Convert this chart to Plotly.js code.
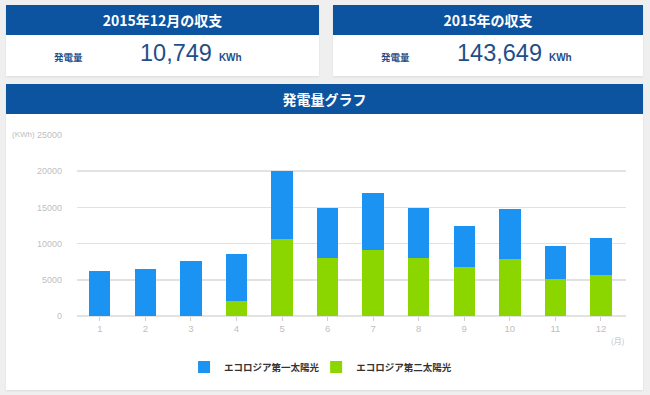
<!DOCTYPE html>
<html>
<head>
<meta charset="utf-8">
<script src="https://cdn.plot.ly/plotly-3.0.1.min.js"></script>
<style>
  html, body { margin:0; padding:0; }
  body { width:650px; height:395px; background:#efefef; position:relative; overflow:hidden;
         font-family:"Liberation Sans","Noto Sans CJK JP",sans-serif; }
  .panel { position:absolute; background:#fff; box-shadow:0 1px 2px rgba(0,0,0,0.08); }
  .head { position:absolute; left:0; top:0; right:0; height:30px; background:#0c54a0; color:#fff;
          font-family:"Noto Sans CJK JP",sans-serif; font-weight:bold; font-size:14px;
          text-align:center; line-height:30px; }
  .lab { position:absolute; font-family:"Noto Sans CJK JP",sans-serif; font-weight:bold; font-size:9.5px;
         color:#1f4e89; }
  .val { position:absolute; font-family:"Liberation Sans",sans-serif; font-size:23.5px; line-height:23px;
         color:#1f4e89; white-space:nowrap; }
  .val span { font-size:10px; font-weight:bold; margin-left:7px; }
  #chart { position:absolute; left:6px; top:113px; width:637px; height:277px; }
</style>
</head>
<body>
<div class="panel" style="left:6px; top:5px; width:313px; height:71px;">
  <div class="head">2015年12月の収支</div>
  <div class="lab" style="left:48px; top:45px;">発電量</div>
  <div class="val" style="left:134px; top:37px;">10,749<span>KWh</span></div>
</div>
<div class="panel" style="left:333px; top:5px; width:310px; height:71px;">
  <div class="head">2015年の収支</div>
  <div class="lab" style="left:48px; top:45px;">発電量</div>
  <div class="val" style="left:124px; top:37px;">143,649<span>KWh</span></div>
</div>
<div class="panel" style="left:6px; top:84px; width:637px; height:306px;">
  <div class="head">発電量グラフ</div>
</div>
<div id="chart"></div>
<script>
const months = ['1','2','3','4','5','6','7','8','9','10','11','12'];
const seriesNames = ['エコロジア第一太陽光', 'エコロジア第二太陽光'];
const series1 = [6170, 6450, 7560, 6490, 9430, 6870, 7820, 6850, 5700, 6960, 4520, 5030];
const series2 = [0, 0, 0, 2070, 10590, 8010, 9170, 8070, 6730, 7870, 5110, 5720];
const yTicks = [0, 5000, 10000, 15000, 20000, 25000];

const data = [
  { type:'bar', x: months, y: series2, name: seriesNames[1], legend:'legend2',
    marker:{ color:'#8cd600' }, hoverinfo:'skip' },
  { type:'bar', x: months, y: series1, name: seriesNames[0], legend:'legend',
    marker:{ color:'#1a93f2' }, hoverinfo:'skip' }
];

const legendFont = { family:'"Noto Sans CJK JP", sans-serif', size:9.5, color:'#333', weight:'bold' };

const layout = {
  width: 637, height: 277,
  margin: { l:71, r:17, t:22, b:74, autoexpand:false },
  paper_bgcolor:'rgba(0,0,0,0)', plot_bgcolor:'rgba(0,0,0,0)',
  barmode:'stack', bargap:0.53,
  font:{ family:'"Liberation Sans", "Noto Sans CJK JP", sans-serif', size:9, color:'#c0c0c0' },
  xaxis:{ type:'category', range:[-0.5, 11.55], ticks:'outside', ticklen:4, tickcolor:'#d0d0d0',
          showgrid:false, showline:false, zeroline:false, fixedrange:true,
          tickfont:{ size:9.5, color:'#c0c0c0' } },
  yaxis:{ range:[0, 25000], tickvals: yTicks, ticktext: yTicks.map(String),
          showgrid:true, gridcolor:'#e2e2e2', gridwidth:1.5, zeroline:true, zerolinecolor:'#e2e2e2',
          zerolinewidth:1.5, showline:false, ticks:'', ticklabelstandoff:14, fixedrange:true,
          tickfont:{ size:9, color:'#c0c0c0' } },
  showlegend:true,
  legend:{ orientation:'h', x:0.195, xanchor:'left', y:-0.282, yanchor:'middle',
           font: legendFont, itemwidth:30, bgcolor:'rgba(0,0,0,0)' },
  legend2:{ orientation:'h', x:0.4356, xanchor:'left', y:-0.282, yanchor:'middle',
           font: legendFont, itemwidth:30, bgcolor:'rgba(0,0,0,0)' },
  annotations:[
    { xref:'paper', yref:'paper', x:-0.0975, y:1.0055, xanchor:'center', yanchor:'middle',
      text:'(KWh)', showarrow:false, font:{ size:8, color:'#bdbdbd' } },
    { xref:'paper', yref:'paper', x:0.9845, y:-0.138, xanchor:'center', yanchor:'middle',
      text:'(月)', showarrow:false,
      font:{ size:8, color:'#bdbdbd', family:'"Noto Sans CJK JP", sans-serif' } }
  ]
};

Plotly.newPlot('chart', data, layout, { staticPlot:true, displayModeBar:false });
</script>
</body>
</html>
